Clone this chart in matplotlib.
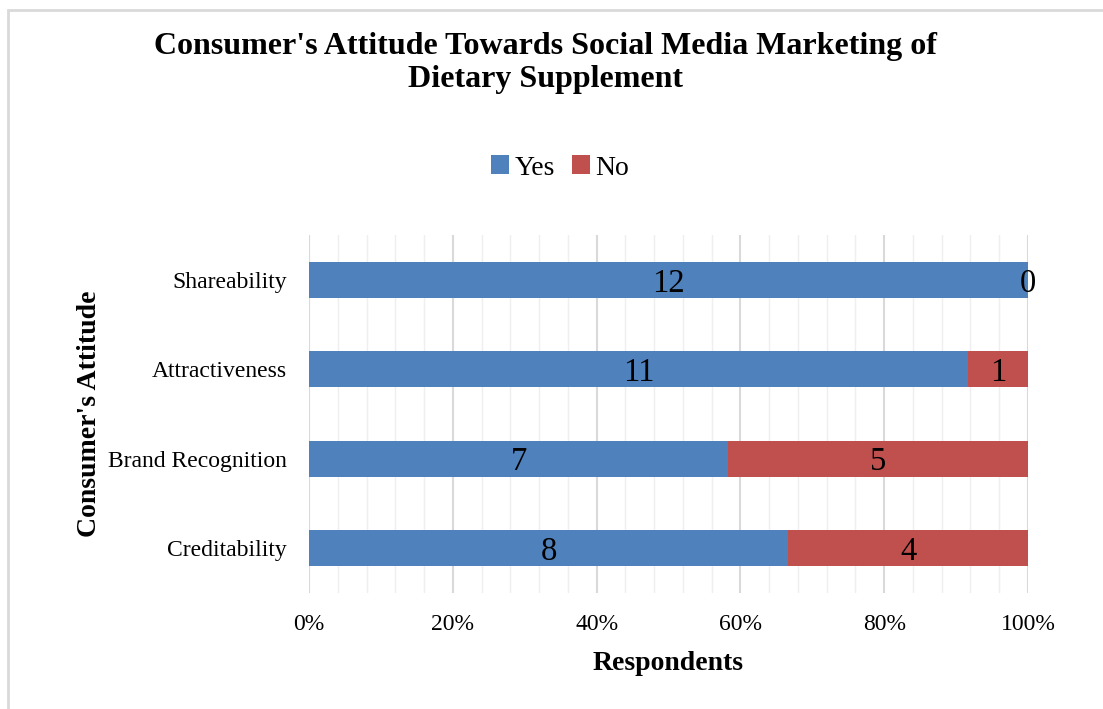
import numpy as np
import matplotlib
import matplotlib.pyplot as plt
from matplotlib.patches import Rectangle
from matplotlib.ticker import MultipleLocator, PercentFormatter

matplotlib.use('agg')

# data
categories = ['Creditability', 'Brand Recognition', 'Attractiveness', 'Shareability']
yes_counts = [8, 7, 11, 12]
no_counts = [4, 5, 1, 0]

plt.rcParams['font.family'] = ['Liberation Serif', 'DejaVu Serif']

yes = np.array(yes_counts, dtype=float)
no = np.array(no_counts, dtype=float)
total = yes + no
yes_pct = yes / total * 100
no_pct = no / total * 100

fig = plt.figure(figsize=(11.03, 7.09), dpi=100)
# light gray outer frame (chart area border, clipped at right and bottom)
fig.patches.append(Rectangle((8/1103, -0.05), 1.2, 1 - 10/709 + 0.05,
                             transform=fig.transFigure, fill=False,
                             edgecolor='#d9d9d9', linewidth=2))

ax = fig.add_axes([309/1103, 1 - 593/709, (1028 - 309)/1103, (593 - 235)/709])
y = np.arange(len(categories))
h = 0.4
b1 = ax.barh(y, yes_pct, height=h, color='#4f81bd', label='Yes')
b2 = ax.barh(y, no_pct, left=yes_pct, height=h, color='#c0504d', label='No')

# count labels in the middle of each segment
for bars, counts in [(b1, yes_counts), (b2, no_counts)]:
    for rect, v in zip(bars, counts):
        ax.text(rect.get_x() + rect.get_width()/2, rect.get_y() + h/2, str(v),
                ha='center', va='center_baseline', fontsize=23.5)

ax.set_xlim(0, 100)
ax.set_ylim(-0.5, len(categories) - 0.5)
ax.set_yticks(y)
ax.set_yticklabels(categories, fontsize=17)
ax.xaxis.set_major_locator(MultipleLocator(20))
ax.xaxis.set_minor_locator(MultipleLocator(4))
ax.xaxis.set_major_formatter(PercentFormatter(decimals=0))
ax.tick_params(axis='x', labelsize=17, length=0, pad=15, which='both')
ax.tick_params(axis='y', length=0, pad=16)
ax.grid(axis='x', which='major', color='#d9d9d9', linewidth=1.5)
ax.grid(axis='x', which='minor', color='#efefef', linewidth=1)
ax.set_axisbelow(True)
for s in ax.spines.values():
    s.set_visible(False)
ax.axvline(0, color='#d9d9d9', linewidth=1.5, zorder=0)

ax.set_xlabel('Respondents', fontsize=20, fontweight='bold', labelpad=12)
ax.set_ylabel("Consumer's Attitude", fontsize=20, fontweight='bold', labelpad=4)

fig.text(546/1103, 1 - 63/709,
         "Consumer's Attitude Towards Social Media Marketing of\nDietary Supplement",
         ha='center', va='center', fontsize=23, fontweight='bold', linespacing=1.2)

fig.legend(handles=[b1, b2], loc='center', bbox_to_anchor=(560/1103, 1 - 168/709),
           ncol=2, frameon=False, fontsize=20, handlelength=0.65, handleheight=0.65,
           handletextpad=0.2, columnspacing=0.6)

plt.savefig('out.png', dpi=100)
plt.close('all')
